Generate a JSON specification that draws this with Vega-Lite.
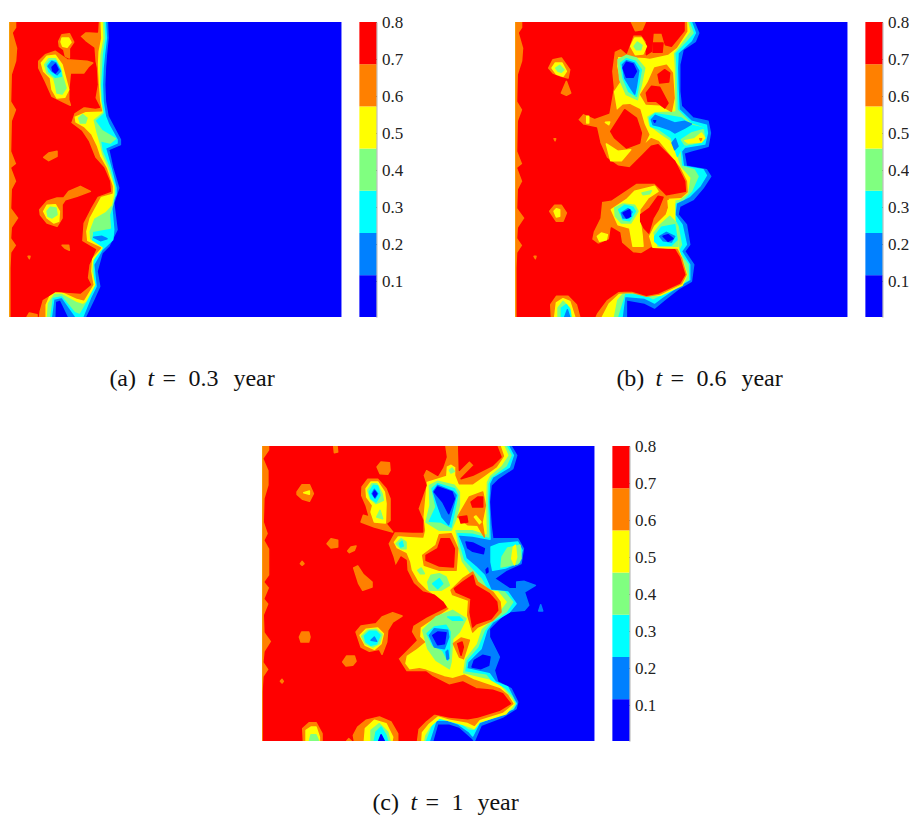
{"$schema":"https://vega.github.io/schema/vega-lite/v6.json","padding":{"left":9,"top":13,"right":0,"bottom":0},"background":"white","config":{"view":{"stroke":null}},
"datasets":{
"bar":[{"lo":0.003,"hi":0.116,"level":1},{"lo":0.116,"hi":0.23,"level":2},{"lo":0.23,"hi":0.344,"level":3},{"lo":0.344,"hi":0.458,"level":4},{"lo":0.458,"hi":0.572,"level":5},{"lo":0.572,"hi":0.686,"level":6},{"lo":0.686,"hi":0.8,"level":7}],
"capA":[{"part":"(a)","pos":100,"it":0},{"part":"t","pos":138,"it":1},{"part":"=","pos":153,"it":0},{"part":"0.3","pos":179,"it":0},{"part":"year","pos":224,"it":0}],
"capB":[{"part":"(b)","pos":101,"it":0},{"part":"t","pos":140,"it":1},{"part":"=","pos":155,"it":0},{"part":"0.6","pos":181,"it":0},{"part":"year","pos":226,"it":0}],
"capC":[{"part":"(c)","pos":110,"it":0},{"part":"t","pos":148,"it":1},{"part":"=","pos":163,"it":0},{"part":"1","pos":189,"it":0},{"part":"year","pos":215,"it":0}],
"a":[
{"type":"Feature","level":1,"geometry":{"type":"Polygon","coordinates":[[[12,12],[1008,12],[1008,897],[12,897],[12,12]]]}},
{"type":"Feature","level":2,"geometry":{"type":"Polygon","coordinates":[[[12,12],[306,12],[308,60],[303,110],[300,150],[298,200],[300,250],[308,295],[345,365],[345,380],[310,395],[322,450],[340,510],[325,555],[335,635],[310,685],[290,705],[275,760],[283,805],[265,845],[240,897],[190,897],[165,845],[150,850],[148,897],[12,897],[12,12]]]}},
{"type":"Feature","level":3,"geometry":{"type":"Polygon","coordinates":[[[12,12],[300,12],[303,60],[297,110],[293,150],[291,200],[293,250],[300,295],[310,320],[335,365],[335,375],[300,390],[317,450],[332,510],[332,530],[318,555],[325,635],[322,665],[290,695],[265,740],[272,805],[255,840],[232,897],[212,897],[170,838],[145,843],[138,897],[12,897],[12,12]]]}},
{"type":"Feature","level":4,"geometry":{"type":"Polygon","coordinates":[[[12,12],[295,12],[298,60],[290,110],[288,150],[285,200],[287,250],[293,285],[268,308],[290,338],[330,362],[315,375],[285,368],[290,400],[312,450],[328,510],[328,530],[322,560],[312,590],[315,630],[262,640],[255,680],[278,695],[262,730],[265,805],[245,845],[222,885],[210,880],[170,832],[140,838],[132,897],[12,897],[12,12]]]}},
{"type":"Feature","level":5,"geometry":{"type":"Polygon","coordinates":[[[12,12],[290,12],[292,60],[283,110],[282,150],[282,200],[285,250],[290,282],[262,305],[270,340],[280,375],[288,410],[306,450],[325,505],[325,525],[318,560],[300,580],[265,600],[250,640],[252,665],[290,690],[262,725],[258,760],[268,800],[240,850],[232,855],[215,850],[170,825],[145,825],[125,855],[122,897],[12,897],[12,12]]]}},
{"type":"Feature","level":6,"geometry":{"type":"Polygon","coordinates":[[[12,12],[283,12],[285,60],[277,100],[275,140],[278,200],[282,250],[288,278],[240,280],[205,295],[208,315],[235,330],[255,350],[272,385],[282,415],[302,450],[320,505],[320,525],[285,535],[250,600],[240,640],[243,670],[285,690],[258,720],[255,760],[262,800],[235,845],[215,840],[165,818],[135,820],[118,860],[118,897],[12,897],[12,12]]]}},
{"type":"Feature","level":7,"geometry":{"type":"Polygon","coordinates":[[[35,12],[278,12],[276,42],[240,40],[222,55],[240,72],[265,90],[268,130],[272,150],[275,200],[268,240],[282,268],[270,270],[235,265],[205,285],[195,315],[228,340],[248,370],[268,420],[295,450],[312,490],[315,520],[275,535],[255,570],[232,615],[228,670],[270,695],[250,740],[245,780],[255,800],[225,825],[150,820],[110,845],[100,880],[98,897],[18,897],[18,750],[20,705],[35,682],[20,660],[22,630],[42,600],[20,570],[22,515],[35,490],[20,450],[35,438],[20,400],[22,310],[35,275],[20,250],[22,170],[35,130],[38,90],[25,45],[35,30],[35,12]]]}},
{"type":"Feature","level":4,"geometry":{"type":"Polygon","coordinates":[[[220,300],[232,290],[245,300],[240,315],[225,315],[220,300]]]}},
{"type":"Feature","level":3,"geometry":{"type":"Polygon","coordinates":[[[265,645],[290,643],[320,645],[312,672],[285,678],[268,665],[265,645]]]}},
{"type":"Feature","level":2,"geometry":{"type":"Polygon","coordinates":[[[265,658],[290,655],[305,662],[285,668],[265,658]]]}},
{"type":"Feature","level":6,"geometry":{"type":"Polygon","coordinates":[[[100,130],[120,110],[150,100],[185,125],[245,130],[262,135],[250,145],[235,165],[195,165],[190,215],[190,245],[195,262],[170,250],[140,235],[120,190],[100,150],[100,130]]]}},
{"type":"Feature","level":6,"geometry":{"type":"Polygon","coordinates":[[[160,70],[170,50],[192,47],[205,72],[192,92],[192,120],[180,115],[175,95],[162,85],[160,70]]]}},
{"type":"Feature","level":5,"geometry":{"type":"Polygon","coordinates":[[[167,72],[170,60],[190,60],[197,73],[185,88],[172,85],[167,72]]]}},
{"type":"Feature","level":5,"geometry":{"type":"Polygon","coordinates":[[[108,135],[125,115],[150,112],[170,140],[178,170],[190,215],[178,238],[155,240],[140,215],[135,180],[115,160],[108,135]]]}},
{"type":"Feature","level":4,"geometry":{"type":"Polygon","coordinates":[[[118,140],[130,122],[150,122],[165,150],[170,170],[182,210],[170,228],[155,225],[150,200],[145,180],[125,165],[118,140]]]}},
{"type":"Feature","level":3,"geometry":{"type":"Polygon","coordinates":[[[125,140],[135,128],[150,128],[165,155],[168,175],[150,178],[130,160],[125,140]]]}},
{"type":"Feature","level":2,"geometry":{"type":"Polygon","coordinates":[[[128,145],[140,130],[152,135],[165,160],[155,170],[140,160],[128,145]]]}},
{"type":"Feature","level":1,"geometry":{"type":"Polygon","coordinates":[[[140,148],[150,138],[158,155],[150,165],[142,158],[140,148]]]}},
{"type":"Feature","level":6,"geometry":{"type":"Polygon","coordinates":[[[115,418],[130,405],[155,400],[155,415],[130,428],[115,418]]]}},
{"type":"Feature","level":6,"geometry":{"type":"Polygon","coordinates":[[[103,575],[125,550],[155,540],[175,540],[190,520],[225,505],[255,520],[215,535],[180,545],[170,560],[170,600],[155,625],[125,615],[105,590],[103,575]]]}},
{"type":"Feature","level":5,"geometry":{"type":"Polygon","coordinates":[[[115,580],[125,562],[150,560],[162,580],[160,610],[145,615],[125,600],[115,580]]]}},
{"type":"Feature","level":4,"geometry":{"type":"Polygon","coordinates":[[[125,580],[135,568],[152,570],[155,590],[140,600],[128,595],[125,580]]]}},
{"type":"Feature","level":6,"geometry":{"type":"Polygon","coordinates":[[[170,682],[190,682],[192,697],[178,690],[170,682]]]}},
{"type":"Feature","level":6,"geometry":{"type":"Polygon","coordinates":[[[68,715],[74,715],[72,722],[68,715]]]}},
{"type":"Feature","level":6,"geometry":{"type":"Polygon","coordinates":[[[65,897],[72,885],[95,890],[95,897],[65,897]]]}}
],
"b":[
{"type":"Feature","level":1,"geometry":{"type":"Polygon","coordinates":[[[12,12],[1008,12],[1008,897],[12,897],[12,12]]]}},
{"type":"Feature","level":2,"geometry":{"type":"Polygon","coordinates":[[[12,12],[548,12],[562,45],[552,70],[515,95],[505,140],[505,220],[510,265],[545,300],[590,310],[597,345],[590,385],[540,398],[518,405],[525,445],[585,455],[598,475],[575,510],[545,545],[505,565],[500,590],[525,620],[535,680],[520,700],[547,740],[540,790],[505,810],[460,845],[430,870],[400,855],[345,845],[345,897],[12,897],[12,12]]]}},
{"type":"Feature","level":3,"geometry":{"type":"Polygon","coordinates":[[[12,12],[540,12],[552,45],[540,68],[500,105],[498,150],[500,215],[503,275],[540,310],[585,322],[588,345],[580,378],[520,388],[510,400],[516,445],[575,455],[585,472],[565,505],[535,535],[495,555],[490,590],[512,620],[525,680],[510,700],[535,740],[535,785],[500,805],[452,838],[430,855],[400,840],[340,835],[332,897],[12,897],[12,12]]]}},
{"type":"Feature","level":4,"geometry":{"type":"Polygon","coordinates":[[[12,12],[533,12],[545,45],[525,68],[490,105],[493,150],[495,215],[497,275],[540,318],[575,330],[580,350],[570,372],[520,382],[505,395],[510,445],[548,455],[560,475],[540,520],[515,545],[480,560],[480,590],[500,625],[510,680],[500,700],[530,740],[531,785],[495,805],[450,830],[425,842],[400,828],[340,825],[318,897],[12,897],[12,12]]]}},
{"type":"Feature","level":5,"geometry":{"type":"Polygon","coordinates":[[[12,12],[528,12],[535,40],[505,80],[485,105],[488,150],[490,278],[430,280],[405,295],[412,325],[445,350],[475,370],[490,400],[506,448],[535,480],[528,525],[505,543],[470,548],[470,575],[495,620],[500,690],[510,720],[527,770],[512,802],[447,832],[420,832],[400,818],[340,815],[315,845],[305,897],[12,897],[12,12]]]}},
{"type":"Feature","level":6,"geometry":{"type":"Polygon","coordinates":[[[12,12],[525,12],[526,40],[495,88],[470,108],[415,120],[400,118],[340,115],[318,115],[315,145],[325,190],[305,220],[315,280],[335,262],[355,260],[385,275],[398,320],[412,350],[395,385],[420,362],[440,370],[497,440],[505,450],[525,490],[527,522],[508,538],[470,540],[470,560],[465,580],[490,620],[495,690],[510,720],[524,770],[510,797],[445,828],[405,835],[362,823],[322,825],[290,855],[268,897],[12,897],[12,12]]]}},
{"type":"Feature","level":7,"geometry":{"type":"Polygon","coordinates":[[[35,12],[518,12],[518,38],[480,85],[462,80],[452,45],[425,45],[420,100],[405,110],[405,70],[390,50],[365,50],[345,105],[328,90],[308,100],[300,160],[305,210],[292,285],[250,300],[215,285],[198,305],[215,322],[255,330],[265,375],[285,420],[320,445],[355,450],[395,410],[420,385],[440,380],[490,430],[500,450],[520,490],[522,520],[465,530],[455,520],[430,495],[375,495],[345,515],[300,545],[270,550],[265,600],[245,640],[240,665],[260,680],[295,665],[300,630],[325,645],[330,675],[365,705],[390,708],[420,690],[490,695],[505,720],[520,770],[505,795],[440,825],[405,832],[360,818],[320,820],[285,845],[255,885],[250,897],[18,897],[18,750],[20,705],[35,682],[20,660],[22,630],[42,600],[20,570],[22,515],[35,490],[20,450],[35,438],[20,400],[22,310],[35,275],[20,250],[22,170],[35,130],[38,90],[25,45],[35,30],[35,12]]]}},
{"type":"Feature","level":6,"geometry":{"type":"Polygon","coordinates":[[[360,12],[402,12],[392,35],[372,38],[360,12]]]}},
{"type":"Feature","level":6,"geometry":{"type":"Polygon","coordinates":[[[112,150],[125,125],[150,120],[175,155],[170,180],[150,175],[125,165],[112,150]]]}},
{"type":"Feature","level":5,"geometry":{"type":"Polygon","coordinates":[[[122,150],[132,135],[152,135],[165,160],[155,175],[135,168],[122,150]]]}},
{"type":"Feature","level":4,"geometry":{"type":"Polygon","coordinates":[[[133,150],[145,142],[158,155],[150,163],[140,160],[133,150]]]}},
{"type":"Feature","level":6,"geometry":{"type":"Polygon","coordinates":[[[150,225],[165,190],[178,225],[165,232],[150,225]]]}},
{"type":"Feature","level":6,"geometry":{"type":"Polygon","coordinates":[[[128,362],[133,362],[131,368],[128,362]]]}},
{"type":"Feature","level":5,"geometry":{"type":"Polygon","coordinates":[[[226,295],[232,295],[232,315],[226,315],[226,295]]]}},
{"type":"Feature","level":5,"geometry":{"type":"Polygon","coordinates":[[[282,313],[295,312],[292,320],[282,313]]]}},
{"type":"Feature","level":5,"geometry":{"type":"Polygon","coordinates":[[[358,85],[370,60],[390,60],[405,85],[395,108],[372,110],[358,85]]]}},
{"type":"Feature","level":4,"geometry":{"type":"Polygon","coordinates":[[[368,85],[378,72],[392,82],[388,95],[375,95],[368,85]]]}},
{"type":"Feature","level":7,"geometry":{"type":"Polygon","coordinates":[[[425,75],[455,75],[452,103],[425,103],[425,75]]]}},
{"type":"Feature","level":7,"geometry":{"type":"Polygon","coordinates":[[[298,340],[340,275],[375,300],[390,345],[385,375],[345,390],[310,360],[298,340]]]}},
{"type":"Feature","level":5,"geometry":{"type":"Polygon","coordinates":[[[285,378],[320,400],[358,395],[330,428],[298,428],[285,378]]]}},
{"type":"Feature","level":4,"geometry":{"type":"Polygon","coordinates":[[[320,125],[345,112],[375,120],[400,150],[390,200],[378,245],[345,230],[325,185],[320,125]]]}},
{"type":"Feature","level":3,"geometry":{"type":"Polygon","coordinates":[[[328,135],[345,122],[372,130],[390,155],[382,200],[375,235],[352,220],[335,180],[328,135]]]}},
{"type":"Feature","level":2,"geometry":{"type":"Polygon","coordinates":[[[333,140],[345,128],[368,135],[382,158],[375,205],[370,228],[358,210],[340,180],[333,140]]]}},
{"type":"Feature","level":1,"geometry":{"type":"Polygon","coordinates":[[[335,150],[345,133],[365,138],[375,160],[365,178],[345,178],[335,150]]]}},
{"type":"Feature","level":6,"geometry":{"type":"Polygon","coordinates":[[[430,150],[465,142],[483,165],[488,240],[480,280],[445,260],[405,258],[388,230],[410,195],[430,150]]]}},
{"type":"Feature","level":7,"geometry":{"type":"Polygon","coordinates":[[[440,170],[460,155],[475,165],[472,192],[445,195],[440,170]]]}},
{"type":"Feature","level":7,"geometry":{"type":"Polygon","coordinates":[[[405,225],[420,205],[445,208],[470,255],[460,270],[435,250],[410,250],[405,225]]]}},
{"type":"Feature","level":3,"geometry":{"type":"Polygon","coordinates":[[[415,300],[432,287],[480,295],[510,300],[540,322],[575,330],[580,350],[570,372],[525,378],[510,390],[498,415],[480,360],[445,335],[418,325],[415,300]]]}},
{"type":"Feature","level":2,"geometry":{"type":"Polygon","coordinates":[[[420,305],[432,292],[465,305],[490,315],[520,310],[540,318],[520,330],[490,345],[475,335],[445,325],[425,320],[420,305]]]}},
{"type":"Feature","level":2,"geometry":{"type":"Polygon","coordinates":[[[482,375],[492,362],[500,385],[490,395],[482,375]]]}},
{"type":"Feature","level":1,"geometry":{"type":"Polygon","coordinates":[[[427,308],[433,308],[430,313],[427,308]]]}},
{"type":"Feature","level":4,"geometry":{"type":"Polygon","coordinates":[[[510,365],[540,345],[575,335],[580,360],[570,372],[520,380],[510,365]]]}},
{"type":"Feature","level":5,"geometry":{"type":"Polygon","coordinates":[[[520,368],[550,362],[570,345],[580,360],[570,372],[530,375],[520,368]]]}},
{"type":"Feature","level":6,"geometry":{"type":"Polygon","coordinates":[[[565,362],[571,362],[568,368],[565,362]]]}},
{"type":"Feature","level":5,"geometry":{"type":"Polygon","coordinates":[[[300,575],[345,545],[370,520],[430,505],[440,520],[410,540],[385,575],[385,600],[392,650],[395,685],[365,685],[355,630],[320,620],[300,575]]]}},
{"type":"Feature","level":4,"geometry":{"type":"Polygon","coordinates":[[[392,525],[420,518],[415,527],[395,530],[392,525]]]}},
{"type":"Feature","level":4,"geometry":{"type":"Polygon","coordinates":[[[310,570],[335,558],[370,562],[380,580],[358,615],[330,615],[312,595],[310,570]]]}},
{"type":"Feature","level":3,"geometry":{"type":"Polygon","coordinates":[[[322,575],[340,562],[365,568],[372,580],[355,608],[335,605],[322,575]]]}},
{"type":"Feature","level":2,"geometry":{"type":"Polygon","coordinates":[[[330,585],[350,572],[362,582],[352,600],[335,600],[330,585]]]}},
{"type":"Feature","level":1,"geometry":{"type":"Polygon","coordinates":[[[335,585],[355,575],[358,595],[345,600],[335,585]]]}},
{"type":"Feature","level":5,"geometry":{"type":"Polygon","coordinates":[[[258,655],[270,645],[288,650],[285,665],[265,670],[258,655]]]}},
{"type":"Feature","level":7,"geometry":{"type":"Polygon","coordinates":[[[388,590],[415,570],[440,535],[455,538],[440,575],[425,600],[412,645],[398,630],[388,610],[388,590]]]}},
{"type":"Feature","level":5,"geometry":{"type":"Polygon","coordinates":[[[415,655],[430,625],[465,590],[472,570],[470,548],[490,548],[490,600],[500,690],[470,690],[425,688],[415,655]]]}},
{"type":"Feature","level":4,"geometry":{"type":"Polygon","coordinates":[[[428,645],[445,622],[475,595],[495,615],[500,685],[440,685],[428,645]]]}},
{"type":"Feature","level":3,"geometry":{"type":"Polygon","coordinates":[[[430,655],[450,628],[490,620],[497,665],[480,682],[445,682],[430,670],[430,655]]]}},
{"type":"Feature","level":2,"geometry":{"type":"Polygon","coordinates":[[[445,655],[465,643],[490,655],[480,672],[455,668],[445,655]]]}},
{"type":"Feature","level":1,"geometry":{"type":"Polygon","coordinates":[[[455,655],[470,650],[485,662],[470,670],[455,655]]]}},
{"type":"Feature","level":6,"geometry":{"type":"Polygon","coordinates":[[[115,580],[130,562],[150,562],[165,585],[155,610],[135,610],[115,580]]]}},
{"type":"Feature","level":5,"geometry":{"type":"Polygon","coordinates":[[[128,580],[135,572],[145,575],[145,595],[135,597],[128,580]]]}},
{"type":"Feature","level":6,"geometry":{"type":"Polygon","coordinates":[[[68,715],[74,715],[72,722],[68,715]]]}},
{"type":"Feature","level":6,"geometry":{"type":"Polygon","coordinates":[[[120,897],[118,860],[135,835],[170,835],[195,860],[205,897],[120,897]]]}},
{"type":"Feature","level":5,"geometry":{"type":"Polygon","coordinates":[[[130,897],[135,855],[155,842],[175,850],[190,897],[130,897]]]}},
{"type":"Feature","level":4,"geometry":{"type":"Polygon","coordinates":[[[140,897],[140,870],[155,850],[175,870],[180,897],[140,897]]]}},
{"type":"Feature","level":3,"geometry":{"type":"Polygon","coordinates":[[[150,897],[150,870],[165,860],[175,875],[178,897],[150,897]]]}},
{"type":"Feature","level":2,"geometry":{"type":"Polygon","coordinates":[[[160,897],[168,875],[175,897],[160,897]]]}}
],
"c":[
{"type":"Feature","level":1,"geometry":{"type":"Polygon","coordinates":[[[9,12],[1005,12],[1005,897],[9,897],[9,12]]]}},
{"type":"Feature","level":2,"geometry":{"type":"Polygon","coordinates":[[[9,12],[755,12],[772,40],[760,80],[715,110],[695,130],[690,180],[695,250],[700,290],[775,290],[792,320],[785,365],[740,385],[705,410],[750,440],[772,440],[772,420],[795,418],[828,430],[795,450],[808,490],[795,505],[740,510],[690,560],[690,585],[720,645],[705,685],[715,720],[755,740],[775,780],[770,800],[730,825],[665,850],[645,897],[640,890],[600,855],[570,845],[535,845],[520,897],[9,897],[9,12]]]}},
{"type":"Feature","level":2,"geometry":{"type":"Polygon","coordinates":[[[838,507],[844,488],[850,507],[838,507]]]}},
{"type":"Feature","level":3,"geometry":{"type":"Polygon","coordinates":[[[9,12],[747,12],[762,40],[750,75],[700,105],[690,125],[688,180],[692,292],[640,282],[595,278],[612,320],[620,350],[650,375],[675,400],[695,445],[745,450],[770,485],[750,510],[700,540],[682,565],[665,620],[625,660],[622,680],[690,695],[708,720],[745,735],[765,775],[771,785],[762,800],[725,818],[660,842],[640,882],[630,870],[595,845],[565,835],[530,835],[510,897],[9,897],[9,12]]]}},
{"type":"Feature","level":4,"geometry":{"type":"Polygon","coordinates":[[[9,12],[740,12],[755,40],[740,72],[695,105],[685,125],[684,180],[688,285],[640,272],[590,270],[602,320],[612,355],[640,385],[665,410],[685,445],[735,450],[760,480],[740,510],[695,540],[675,565],[655,615],[620,655],[615,690],[680,700],[700,725],[735,740],[758,765],[768,785],[760,800],[725,815],[660,835],[642,862],[628,860],[595,835],[560,825],[525,825],[497,897],[9,897],[9,12]]]}},
{"type":"Feature","level":5,"geometry":{"type":"Polygon","coordinates":[[[9,12],[733,12],[745,40],[725,70],[690,100],[680,120],[678,180],[680,275],[640,262],[585,262],[595,320],[605,360],[630,395],[655,420],[670,445],[715,450],[740,480],[710,520],[665,560],[650,605],[615,650],[608,695],[670,710],[690,715],[725,735],[755,770],[765,785],[740,815],[660,840],[645,860],[620,850],[565,835],[540,828],[510,855],[495,880],[492,897],[9,897],[9,12]]]}},
{"type":"Feature","level":6,"geometry":{"type":"Polygon","coordinates":[[[9,12],[722,12],[732,42],[710,75],[675,100],[640,125],[600,125],[590,100],[590,75],[575,65],[560,72],[558,100],[500,118],[495,170],[490,225],[495,265],[490,285],[440,282],[415,280],[400,300],[410,320],[440,335],[450,360],[455,385],[475,420],[500,445],[530,465],[550,490],[565,500],[505,540],[482,555],[480,585],[495,600],[470,620],[440,640],[435,665],[450,685],[480,680],[500,685],[555,705],[580,710],[615,700],[645,715],[675,725],[720,740],[745,760],[760,785],[730,810],[660,832],[645,850],[625,840],[570,830],[535,820],[505,845],[485,870],[483,897],[9,897],[9,12]]]}},
{"type":"Feature","level":7,"geometry":{"type":"Polygon","coordinates":[[[32,12],[555,12],[560,45],[550,75],[535,100],[500,80],[490,100],[500,130],[475,200],[490,235],[490,270],[460,270],[405,268],[385,305],[400,345],[408,375],[425,345],[440,355],[442,385],[462,425],[490,450],[525,460],[550,480],[560,495],[500,525],[460,550],[455,570],[470,595],[450,615],[415,650],[440,690],[500,690],[520,705],[570,730],[610,720],[650,740],[700,745],[730,755],[753,785],[720,805],[655,825],[625,830],[570,825],[525,815],[500,835],[475,860],[470,897],[12,897],[12,750],[15,705],[30,682],[15,660],[18,630],[38,598],[18,570],[16,520],[30,485],[18,470],[32,437],[18,420],[32,400],[32,320],[18,295],[28,275],[16,240],[18,170],[30,130],[30,85],[15,50],[32,25],[32,12]]]}},
{"type":"Feature","level":7,"geometry":{"type":"Polygon","coordinates":[[[598,12],[712,12],[725,45],[700,70],[640,100],[605,110],[645,70],[630,55],[600,85],[598,12]]]}},
{"type":"Feature","level":6,"geometry":{"type":"Polygon","coordinates":[[[490,340],[530,310],[540,278],[575,275],[595,320],[590,385],[540,385],[495,370],[490,340]]]}},
{"type":"Feature","level":7,"geometry":{"type":"Polygon","coordinates":[[[500,340],[535,320],[545,290],[570,290],[585,320],[582,375],[540,372],[500,355],[500,340]]]}},
{"type":"Feature","level":4,"geometry":{"type":"Polygon","coordinates":[[[475,385],[485,378],[495,395],[483,395],[475,385]]]}},
{"type":"Feature","level":4,"geometry":{"type":"Polygon","coordinates":[[[570,85],[578,78],[585,88],[575,93],[570,85]]]}},
{"type":"Feature","level":4,"geometry":{"type":"Polygon","coordinates":[[[410,305],[425,290],[440,300],[440,320],[425,320],[410,305]]]}},
{"type":"Feature","level":3,"geometry":{"type":"Polygon","coordinates":[[[420,305],[428,298],[432,312],[424,315],[420,305]]]}},
{"type":"Feature","level":4,"geometry":{"type":"Polygon","coordinates":[[[510,130],[535,118],[585,130],[600,150],[600,190],[590,230],[575,265],[540,265],[500,240],[512,190],[510,130]]]}},
{"type":"Feature","level":3,"geometry":{"type":"Polygon","coordinates":[[[518,140],[535,125],[585,140],[595,160],[585,210],[575,255],[545,240],[510,238],[530,195],[518,140]]]}},
{"type":"Feature","level":2,"geometry":{"type":"Polygon","coordinates":[[[522,148],[535,130],[580,148],[590,160],[575,220],[568,248],[548,225],[535,190],[522,148]]]}},
{"type":"Feature","level":1,"geometry":{"type":"Polygon","coordinates":[[[525,150],[535,135],[578,150],[585,170],[568,215],[550,180],[525,150]]]}},
{"type":"Feature","level":6,"geometry":{"type":"Polygon","coordinates":[[[595,225],[630,165],[670,150],[678,190],[668,240],[675,285],[655,250],[625,248],[595,225]]]}},
{"type":"Feature","level":7,"geometry":{"type":"Polygon","coordinates":[[[635,180],[655,165],[670,165],[670,195],[640,195],[635,180]]]}},
{"type":"Feature","level":7,"geometry":{"type":"Polygon","coordinates":[[[600,225],[622,222],[625,240],[605,243],[600,225]]]}},
{"type":"Feature","level":5,"geometry":{"type":"Polygon","coordinates":[[[645,225],[650,222],[665,240],[660,245],[645,225]]]}},
{"type":"Feature","level":1,"geometry":{"type":"Polygon","coordinates":[[[620,300],[640,303],[675,320],[672,335],[640,328],[625,318],[620,300]]]}},
{"type":"Feature","level":1,"geometry":{"type":"Polygon","coordinates":[[[680,383],[685,378],[686,390],[682,393],[680,383]]]}},
{"type":"Feature","level":3,"geometry":{"type":"Polygon","coordinates":[[[695,315],[720,305],[775,300],[788,325],[780,362],[738,378],[700,385],[695,360],[695,315]]]}},
{"type":"Feature","level":4,"geometry":{"type":"Polygon","coordinates":[[[725,375],[728,345],[745,318],[782,310],[785,350],[775,365],[725,375]]]}},
{"type":"Feature","level":5,"geometry":{"type":"Polygon","coordinates":[[[757,350],[762,315],[768,310],[772,345],[765,368],[757,350]]]}},
{"type":"Feature","level":6,"geometry":{"type":"Polygon","coordinates":[[[575,445],[610,410],[640,390],[655,420],[700,450],[722,480],[725,510],[700,535],[655,555],[640,570],[625,520],[628,475],[580,458],[575,445]]]}},
{"type":"Feature","level":7,"geometry":{"type":"Polygon","coordinates":[[[585,440],[610,420],[640,400],[648,430],[690,455],[712,480],[715,505],[695,530],[650,545],[640,555],[632,510],[635,470],[590,450],[585,440]]]}},
{"type":"Feature","level":4,"geometry":{"type":"Polygon","coordinates":[[[505,420],[515,400],[540,395],[560,405],[570,430],[545,445],[510,445],[505,420]]]}},
{"type":"Feature","level":3,"geometry":{"type":"Polygon","coordinates":[[[520,425],[540,410],[550,425],[535,440],[520,425]]]}},
{"type":"Feature","level":4,"geometry":{"type":"Polygon","coordinates":[[[490,565],[530,525],[580,505],[620,530],[600,570],[580,590],[575,660],[570,680],[530,655],[505,620],[490,565]]]}},
{"type":"Feature","level":3,"geometry":{"type":"Polygon","coordinates":[[[503,575],[525,555],[560,550],[572,570],[570,640],[565,655],[550,625],[520,610],[503,575]]]}},
{"type":"Feature","level":3,"geometry":{"type":"Polygon","coordinates":[[[565,525],[600,525],[610,535],[580,535],[565,525]]]}},
{"type":"Feature","level":2,"geometry":{"type":"Polygon","coordinates":[[[510,580],[525,560],[565,565],[568,585],[555,620],[525,615],[510,580]]]}},
{"type":"Feature","level":1,"geometry":{"type":"Polygon","coordinates":[[[520,580],[535,570],[560,572],[555,605],[535,608],[520,580]]]}},
{"type":"Feature","level":2,"geometry":{"type":"Polygon","coordinates":[[[560,630],[565,625],[568,650],[563,652],[560,630]]]}},
{"type":"Feature","level":6,"geometry":{"type":"Polygon","coordinates":[[[582,605],[605,588],[630,595],[612,650],[600,645],[582,605]]]}},
{"type":"Feature","level":7,"geometry":{"type":"Polygon","coordinates":[[[595,605],[608,600],[612,615],[605,640],[595,605]]]}},
{"type":"Feature","level":1,"geometry":{"type":"Polygon","coordinates":[[[638,675],[645,655],[670,640],[692,645],[688,670],[665,680],[638,675]]]}},
{"type":"Feature","level":6,"geometry":{"type":"Polygon","coordinates":[[[223,12],[233,12],[235,30],[225,32],[223,12]]]}},
{"type":"Feature","level":6,"geometry":{"type":"Polygon","coordinates":[[[353,75],[365,60],[390,62],[392,85],[385,97],[362,95],[353,75]]]}},
{"type":"Feature","level":6,"geometry":{"type":"Polygon","coordinates":[[[113,150],[128,128],[150,128],[162,155],[150,178],[130,172],[113,157],[113,150]]]}},
{"type":"Feature","level":5,"geometry":{"type":"Polygon","coordinates":[[[133,152],[150,147],[150,157],[133,152]]]}},
{"type":"Feature","level":6,"geometry":{"type":"Polygon","coordinates":[[[203,305],[215,290],[235,295],[235,315],[215,318],[203,305]]]}},
{"type":"Feature","level":6,"geometry":{"type":"Polygon","coordinates":[[[265,327],[275,315],[290,312],[285,325],[270,332],[265,327]]]}},
{"type":"Feature","level":6,"geometry":{"type":"Polygon","coordinates":[[[123,365],[128,358],[134,365],[128,370],[123,365]]]}},
{"type":"Feature","level":6,"geometry":{"type":"Polygon","coordinates":[[[283,378],[295,372],[312,398],[338,420],[338,435],[310,445],[298,425],[283,378]]]}},
{"type":"Feature","level":6,"geometry":{"type":"Polygon","coordinates":[[[308,135],[325,112],[355,112],[380,140],[392,170],[392,235],[380,245],[400,270],[345,255],[305,240],[312,220],[330,225],[320,190],[307,160],[308,135]]]}},
{"type":"Feature","level":5,"geometry":{"type":"Polygon","coordinates":[[[320,140],[335,120],[355,120],[375,150],[380,185],[378,243],[345,240],[335,210],[340,190],[322,165],[320,140]]]}},
{"type":"Feature","level":4,"geometry":{"type":"Polygon","coordinates":[[[325,145],[338,125],[352,125],[368,155],[372,175],[350,185],[333,170],[325,145]]]}},
{"type":"Feature","level":4,"geometry":{"type":"Polygon","coordinates":[[[352,225],[362,205],[370,230],[352,225]]]}},
{"type":"Feature","level":3,"geometry":{"type":"Polygon","coordinates":[[[330,150],[342,130],[355,132],[362,160],[350,180],[335,170],[330,150]]]}},
{"type":"Feature","level":2,"geometry":{"type":"Polygon","coordinates":[[[338,155],[345,142],[355,155],[347,168],[338,155]]]}},
{"type":"Feature","level":1,"geometry":{"type":"Polygon","coordinates":[[[341,155],[346,147],[352,155],[346,165],[341,155]]]}},
{"type":"Feature","level":6,"geometry":{"type":"Polygon","coordinates":[[[120,585],[127,570],[148,570],[152,585],[148,600],[125,600],[120,585]]]}},
{"type":"Feature","level":6,"geometry":{"type":"Polygon","coordinates":[[[250,660],[262,642],[285,642],[290,658],[280,670],[260,672],[250,660]]]}},
{"type":"Feature","level":6,"geometry":{"type":"Polygon","coordinates":[[[290,570],[305,552],[350,545],[368,525],[400,512],[428,522],[400,540],[385,565],[382,600],[368,637],[360,622],[330,628],[305,615],[290,570]]]}},
{"type":"Feature","level":5,"geometry":{"type":"Polygon","coordinates":[[[302,580],[320,562],[355,558],[372,575],[365,605],[345,622],[318,610],[302,580]]]}},
{"type":"Feature","level":4,"geometry":{"type":"Polygon","coordinates":[[[307,583],[325,565],[350,562],[368,578],[360,605],[340,615],[318,605],[307,583]]]}},
{"type":"Feature","level":3,"geometry":{"type":"Polygon","coordinates":[[[315,582],[330,568],[350,568],[362,580],[352,605],[335,610],[320,600],[315,582]]]}},
{"type":"Feature","level":2,"geometry":{"type":"Polygon","coordinates":[[[335,595],[345,585],[352,598],[335,595]]]}},
{"type":"Feature","level":6,"geometry":{"type":"Polygon","coordinates":[[[63,718],[68,712],[72,718],[68,723],[63,718]]]}},
{"type":"Feature","level":6,"geometry":{"type":"Polygon","coordinates":[[[282,880],[295,855],[320,835],[360,825],[395,840],[415,875],[415,897],[285,897],[282,880]]]}},
{"type":"Feature","level":5,"geometry":{"type":"Polygon","coordinates":[[[315,897],[318,860],[345,835],[380,845],[400,885],[398,897],[315,897]]]}},
{"type":"Feature","level":4,"geometry":{"type":"Polygon","coordinates":[[[335,897],[335,865],[360,845],[385,870],[392,897],[335,897]]]}},
{"type":"Feature","level":3,"geometry":{"type":"Polygon","coordinates":[[[345,897],[350,870],[365,855],[380,880],[385,897],[345,897]]]}},
{"type":"Feature","level":1,"geometry":{"type":"Polygon","coordinates":[[[358,897],[365,878],[375,897],[358,897]]]}},
{"type":"Feature","level":6,"geometry":{"type":"Polygon","coordinates":[[[132,897],[130,860],[150,842],[170,842],[188,875],[188,897],[132,897]]]}},
{"type":"Feature","level":5,"geometry":{"type":"Polygon","coordinates":[[[140,897],[140,865],[155,855],[170,855],[180,885],[180,897],[140,897]]]}},
{"type":"Feature","level":4,"geometry":{"type":"Polygon","coordinates":[[[150,897],[155,878],[170,878],[178,897],[150,897]]]}},
{"type":"Feature","level":6,"geometry":{"type":"Polygon","coordinates":[[[262,897],[268,890],[276,897],[262,897]]]}}
]},
"vconcat":[
{"hconcat":[
{"vconcat":[{"hconcat":[
{"width":332,"height":295,"data":{"name":"a"},"projection":{"type":"identity"},"mark":{"type":"geoshape","strokeWidth":1.5,"strokeJoin":"round","clip":true},"encoding":{"color":{"field":"level","type":"ordinal","scale":{"domain":[1,2,3,4,5,6,7],"range":["#0000ff","#0080ff","#00ffff","#80ff80","#ffff00","#ff8000","#ff0000"]},"legend":null},"stroke":{"field":"level","type":"ordinal","scale":{"domain":[1,2,3,4,5,6,7],"range":["#0000ff","#0080ff","#00ffff","#80ff80","#ffff00","#ff8000","#ff0000"]},"legend":null}}},
{"width":17,"height":295,"data":{"name":"bar"},"mark":{"type":"rect"},"encoding":{"y":{"field":"lo","type":"quantitative","scale":{"domain":[0.003,0.8],"nice":false,"zero":false},"axis":{"orient":"right","title":null,"values":[0.1,0.2,0.3,0.4,0.5,0.6,0.7,0.8],"format":".1f","labelFont":"Liberation Serif","labelFontSize":17,"labelColor":"#222222","tickSize":-3,"tickColor":"#666666","domainColor":"#999999","labelPadding":8,"grid":false,"labelOverlap":false,"labelBound":false}},"y2":{"field":"hi"},"color":{"field":"level","type":"ordinal","scale":{"domain":[1,2,3,4,5,6,7],"range":["#0000ff","#0080ff","#00ffff","#80ff80","#ffff00","#ff8000","#ff0000"]},"legend":null}}}
],"spacing":18,"bounds":"flush"},
{"width":367,"height":16,"data":{"name":"capA"},"layer":[
{"transform":[{"filter":"datum.it==0"}],"mark":{"type":"text","align":"left","baseline":"alphabetic","font":"Liberation Serif","fontSize":24,"color":"#111111"},"encoding":{"x":{"field":"pos","type":"quantitative","scale":{"domain":[0,367],"nice":false},"axis":null},"y":{"value":16},"text":{"field":"part"}}},
{"transform":[{"filter":"datum.it==1"}],"mark":{"type":"text","align":"left","baseline":"alphabetic","font":"Liberation Serif","fontSize":24,"fontStyle":"italic","color":"#111111"},"encoding":{"x":{"field":"pos","type":"quantitative","scale":{"domain":[0,367],"nice":false},"axis":null},"y":{"value":16},"text":{"field":"part"}}}
]}
],"spacing":50},
{"vconcat":[{"hconcat":[
{"width":332,"height":295,"data":{"name":"b"},"projection":{"type":"identity"},"mark":{"type":"geoshape","strokeWidth":1.5,"strokeJoin":"round","clip":true},"encoding":{"color":{"field":"level","type":"ordinal","scale":{"domain":[1,2,3,4,5,6,7],"range":["#0000ff","#0080ff","#00ffff","#80ff80","#ffff00","#ff8000","#ff0000"]},"legend":null},"stroke":{"field":"level","type":"ordinal","scale":{"domain":[1,2,3,4,5,6,7],"range":["#0000ff","#0080ff","#00ffff","#80ff80","#ffff00","#ff8000","#ff0000"]},"legend":null}}},
{"width":17,"height":295,"data":{"name":"bar"},"mark":{"type":"rect"},"encoding":{"y":{"field":"lo","type":"quantitative","scale":{"domain":[0.003,0.8],"nice":false,"zero":false},"axis":{"orient":"right","title":null,"values":[0.1,0.2,0.3,0.4,0.5,0.6,0.7,0.8],"format":".1f","labelFont":"Liberation Serif","labelFontSize":17,"labelColor":"#222222","tickSize":-3,"tickColor":"#666666","domainColor":"#999999","labelPadding":8,"grid":false,"labelOverlap":false,"labelBound":false}},"y2":{"field":"hi"},"color":{"field":"level","type":"ordinal","scale":{"domain":[1,2,3,4,5,6,7],"range":["#0000ff","#0080ff","#00ffff","#80ff80","#ffff00","#ff8000","#ff0000"]},"legend":null}}}
],"spacing":18,"bounds":"flush"},
{"width":367,"height":16,"data":{"name":"capB"},"layer":[
{"transform":[{"filter":"datum.it==0"}],"mark":{"type":"text","align":"left","baseline":"alphabetic","font":"Liberation Serif","fontSize":24,"color":"#111111"},"encoding":{"x":{"field":"pos","type":"quantitative","scale":{"domain":[0,367],"nice":false},"axis":null},"y":{"value":16},"text":{"field":"part"}}},
{"transform":[{"filter":"datum.it==1"}],"mark":{"type":"text","align":"left","baseline":"alphabetic","font":"Liberation Serif","fontSize":24,"fontStyle":"italic","color":"#111111"},"encoding":{"x":{"field":"pos","type":"quantitative","scale":{"domain":[0,367],"nice":false},"axis":null},"y":{"value":16},"text":{"field":"part"}}}
]}
],"spacing":50}
],"spacing":112},
{"vconcat":[{"hconcat":[
{"width":332,"height":295,"data":{"name":"c"},"projection":{"type":"identity"},"mark":{"type":"geoshape","strokeWidth":1.5,"strokeJoin":"round","clip":true},"encoding":{"color":{"field":"level","type":"ordinal","scale":{"domain":[1,2,3,4,5,6,7],"range":["#0000ff","#0080ff","#00ffff","#80ff80","#ffff00","#ff8000","#ff0000"]},"legend":null},"stroke":{"field":"level","type":"ordinal","scale":{"domain":[1,2,3,4,5,6,7],"range":["#0000ff","#0080ff","#00ffff","#80ff80","#ffff00","#ff8000","#ff0000"]},"legend":null}}},
{"width":17,"height":295,"data":{"name":"bar"},"mark":{"type":"rect"},"encoding":{"y":{"field":"lo","type":"quantitative","scale":{"domain":[0.003,0.8],"nice":false,"zero":false},"axis":{"orient":"right","title":null,"values":[0.1,0.2,0.3,0.4,0.5,0.6,0.7,0.8],"format":".1f","labelFont":"Liberation Serif","labelFontSize":17,"labelColor":"#222222","tickSize":-3,"tickColor":"#666666","domainColor":"#999999","labelPadding":8,"grid":false,"labelOverlap":false,"labelBound":false}},"y2":{"field":"hi"},"color":{"field":"level","type":"ordinal","scale":{"domain":[1,2,3,4,5,6,7],"range":["#0000ff","#0080ff","#00ffff","#80ff80","#ffff00","#ff8000","#ff0000"]},"legend":null}}}
],"spacing":18,"bounds":"flush"},
{"width":367,"height":16,"data":{"name":"capC"},"layer":[
{"transform":[{"filter":"datum.it==0"}],"mark":{"type":"text","align":"left","baseline":"alphabetic","font":"Liberation Serif","fontSize":24,"color":"#111111"},"encoding":{"x":{"field":"pos","type":"quantitative","scale":{"domain":[0,367],"nice":false},"axis":null},"y":{"value":16},"text":{"field":"part"}}},
{"transform":[{"filter":"datum.it==1"}],"mark":{"type":"text","align":"left","baseline":"alphabetic","font":"Liberation Serif","fontSize":24,"fontStyle":"italic","color":"#111111"},"encoding":{"x":{"field":"pos","type":"quantitative","scale":{"domain":[0,367],"nice":false},"axis":null},"y":{"value":16},"text":{"field":"part"}}}
]}
],"spacing":50}
],"spacing":46,"center":true}
